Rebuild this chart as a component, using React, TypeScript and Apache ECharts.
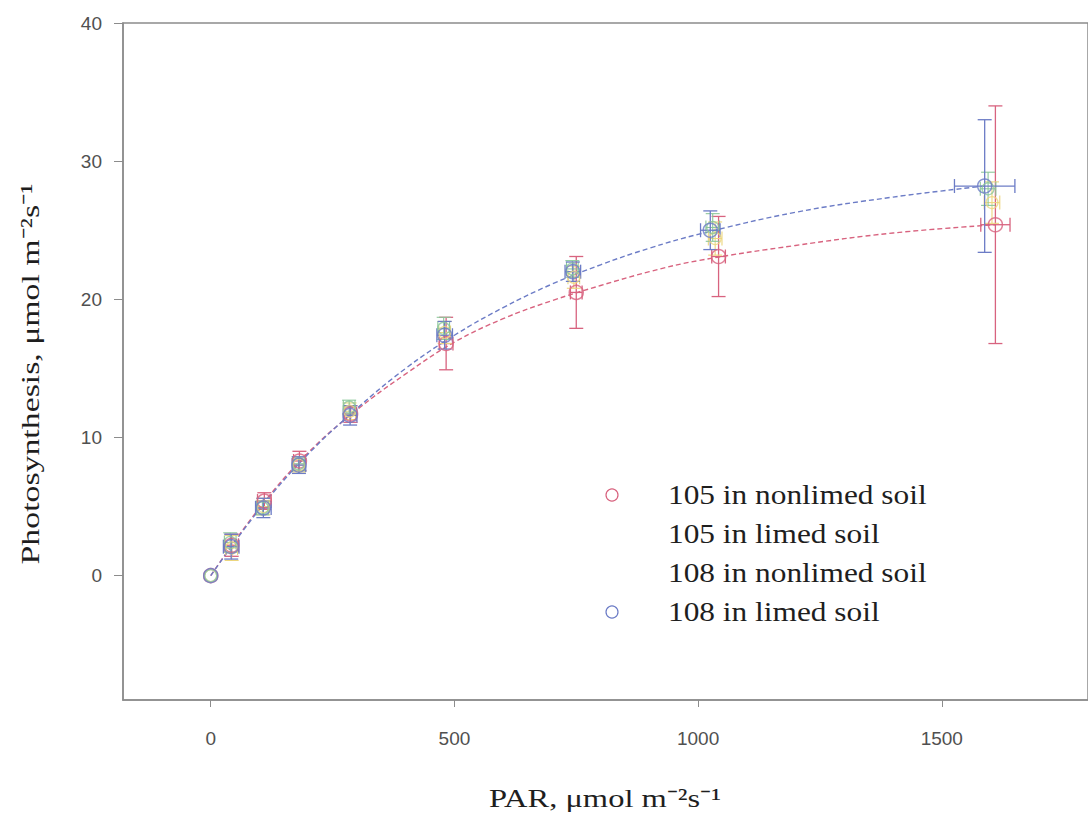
import React, { useEffect, useRef } from "react";
import * as echarts from "echarts";

// Light-response of photosynthesis, two genotypes on limed / nonlimed soil.
// Each treatment: mean PAR, mean photosynthesis, and their error half-widths.
const PAR_105_NL = [0, 43, 110, 182, 287, 483, 750, 1042, 1610];
const PN_105_NL = [0, 2.2, 5.4, 8.3, 11.7, 16.8, 20.5, 23.1, 25.4];
const PAR_ERR_105_NL = [0, 14, 14, 12, 12, 14, 12, 14, 30];
const PN_ERR_105_NL = [0, 0.8, 0.6, 0.7, 0.6, 1.9, 2.6, 2.9, 8.6];

const PAR_105_L = [0, 43, 108, 181, 285, 480, 745, 1035, 1603];
const PN_105_L = [0, 2.0, 5.0, 8.0, 11.9, 17.6, 21.6, 24.4, 27.0];
const PAR_ERR_105_L = [0, 12, 12, 12, 12, 12, 12, 14, 16];
const PN_ERR_105_L = [0, 0.9, 0.6, 0.5, 0.6, 0.8, 0.8, 1.2, 1.5];

const PAR_108_NL = [0, 40, 106, 180, 284, 478, 742, 1030, 1595];
const PN_108_NL = [0, 2.4, 4.9, 8.1, 12.2, 17.9, 22.2, 25.2, 28.0];
const PAR_ERR_108_NL = [0, 12, 12, 12, 12, 12, 12, 14, 16];
const PN_ERR_108_NL = [0, 0.7, 0.5, 0.5, 0.5, 0.8, 0.6, 1.0, 1.2];

const PAR_108_L = [0, 42, 108, 181, 286, 480, 743, 1025, 1588];
const PN_108_L = [0, 2.1, 4.9, 8.0, 11.6, 17.4, 22.0, 25.0, 28.2];
const PAR_ERR_108_L = [0, 16, 16, 14, 14, 16, 16, 20, 62];
const PN_ERR_108_L = [0, 0.9, 0.7, 0.6, 0.7, 1.0, 0.7, 1.4, 4.8];

// Fitted light-response curves
const CURVE_PAR_105_NL = [0, 100, 200, 300, 400, 500, 600, 700, 800, 900, 1000, 1200, 1400, 1610];
const CURVE_PN_105_NL = [0, 4.9, 8.9, 12.0, 14.6, 16.9, 18.6, 19.9, 21.0, 22.0, 22.8, 23.9, 24.8, 25.4];
const CURVE_PAR_108_L = [0, 100, 200, 300, 400, 500, 600, 700, 800, 900, 1000, 1200, 1400, 1588];
const CURVE_PN_108_L = [0, 4.8, 8.8, 12.1, 15.0, 17.4, 19.4, 21.1, 22.5, 23.7, 24.7, 26.3, 27.4, 28.2];

const X_TICKS = [0, 500, 1000, 1500];
const Y_TICKS = [0, 10, 20, 30, 40];

const LEGEND_NAMES = [
  "105 in nonlimed soil",
  "105 in limed soil",
  "108 in nonlimed soil",
  "108 in limed soil",
];

const RED = "#d8637f";
const YELLOW = "#ecd67e";
const GREEN = "#8cc79a";
const BLUE = "#6c7cc6";
const AXIS = "#8c8c8c";
const SERIF = "'Liberation Serif', 'Times New Roman', Times, serif";
const SANS = "'Liberation Sans', Arial, Helvetica, sans-serif";

const zip4 = (a: number[], b: number[], c: number[], d: number[]) =>
  a.map((v, i) => [v, b[i], c[i], d[i]]);

function errorBars(color: string, width: number) {
  return (_params: any, api: any) => {
    const x = api.value(0);
    const y = api.value(1);
    const ex = api.value(2);
    const ey = api.value(3);
    const c = api.coord([x, y]);
    const cap = 7;
    const style = { stroke: color, lineWidth: width };
    const children: any[] = [];
    const seg = (x1: number, y1: number, x2: number, y2: number) =>
      children.push({ type: "line", shape: { x1, y1, x2, y2 }, style });
    if (ey > 0) {
      const t = api.coord([x, y + ey]);
      const b = api.coord([x, y - ey]);
      seg(c[0], t[1], c[0], b[1]);
      seg(c[0] - cap, t[1], c[0] + cap, t[1]);
      seg(c[0] - cap, b[1], c[0] + cap, b[1]);
    }
    if (ex > 0) {
      const l = api.coord([x - ex, y]);
      const r = api.coord([x + ex, y]);
      seg(l[0], c[1], r[0], c[1]);
      seg(l[0], c[1] - cap, l[0], c[1] + cap);
      seg(r[0], c[1] - cap, r[0], c[1] + cap);
    }
    return { type: "group", children };
  };
}

function treatment(
  name: string,
  color: string,
  par: number[],
  pn: number[],
  parErr: number[],
  pnErr: number[],
  symbolSize: number,
  width: number
) {
  const rows = zip4(par, pn, parErr, pnErr);
  return [
    {
      type: "custom",
      name,
      renderItem: errorBars(color, width),
      encode: { x: 0, y: 1 },
      data: rows,
      z: 2,
    },
    {
      type: "scatter",
      name,
      symbol: "circle",
      symbolSize,
      itemStyle: { color: "rgba(255,255,255,0)", borderColor: color, borderWidth: width + 0.2 },
      data: rows.map((r) => [r[0], r[1]]),
      z: 3,
    },
  ];
}

function curve(color: string, par: number[], pn: number[]) {
  return {
    type: "line",
    showSymbol: false,
    smooth: 0.4,
    lineStyle: { color, width: 1.4, type: [5, 3] },
    data: par.map((v, i) => [v, pn[i]]),
    z: 1,
  };
}

export default function App() {
  const ref = useRef<HTMLDivElement>(null);

  useEffect(() => {
    if (!ref.current) return;
    const chart = echarts.init(ref.current, null, { renderer: "svg" });

    const legendRows = [495, 534, 573, 612];
    const legendGraphics: any[] = [];
    LEGEND_NAMES.forEach((n, i) => {
      legendGraphics.push({
        type: "text",
        x: 668,
        y: legendRows[i],
        scaleX: 1.12,
        style: {
          text: n,
          fontSize: 28,
          fontFamily: SERIF,
          fill: "#1e1e1e",
          align: "left",
          verticalAlign: "middle",
        },
      });
    });
    legendGraphics.push(
      { type: "circle", shape: { cx: 612, cy: legendRows[0], r: 6 }, style: { fill: "none", stroke: RED, lineWidth: 1.2 } },
      { type: "circle", shape: { cx: 612, cy: legendRows[3], r: 6 }, style: { fill: "none", stroke: BLUE, lineWidth: 1.2 } }
    );

    const tickLabel = (v: number) => String(v);

    chart.setOption({
      animation: false,
      backgroundColor: "#ffffff",
      grid: {
        left: 123,
        top: 23,
        bottom: 117,
        right: -7,
        show: true,
        borderColor: AXIS,
        borderWidth: 1.5,
      },
      xAxis: {
        type: "value",
        min: -180,
        max: 1800,
        axisLine: { show: true, onZero: false, lineStyle: { color: AXIS, width: 1.5 } },
        axisTick: { show: true, customValues: X_TICKS, length: 7, lineStyle: { color: AXIS } },
        axisLabel: {
          customValues: X_TICKS,
          formatter: tickLabel,
          fontFamily: SANS,
          fontSize: 19,
          color: "#505050",
          margin: 29,
        },
        splitLine: { show: false },
      },
      yAxis: {
        type: "value",
        min: -9,
        max: 40,
        axisLine: { show: true, onZero: false, lineStyle: { color: AXIS, width: 1.5 } },
        axisTick: { show: true, customValues: Y_TICKS, length: 9, lineStyle: { color: AXIS } },
        axisLabel: {
          customValues: Y_TICKS,
          formatter: tickLabel,
          fontFamily: SANS,
          fontSize: 19,
          color: "#505050",
          margin: 21,
        },
        splitLine: { show: false },
      },
      graphic: [
        {
          type: "text",
          x: 30,
          y: 374,
          rotation: Math.PI / 2,
          scaleX: 1.3,
          style: {
            text: "Photosynthesis, μmol m⁻²s⁻¹",
            fontSize: 26,
            fontFamily: SERIF,
            fill: "#1e1e1e",
            align: "center",
            verticalAlign: "middle",
          },
        },
        {
          type: "text",
          x: 605,
          y: 798,
          scaleX: 1.25,
          style: {
            text: "PAR, μmol m⁻²s⁻¹",
            fontSize: 26,
            fontFamily: SERIF,
            fill: "#1e1e1e",
            align: "center",
            verticalAlign: "middle",
          },
        },
        ...legendGraphics,
      ],
      series: [
        curve(RED, CURVE_PAR_105_NL, CURVE_PN_105_NL),
        curve(BLUE, CURVE_PAR_108_L, CURVE_PN_108_L),
        ...treatment(LEGEND_NAMES[0], RED, PAR_105_NL, PN_105_NL, PAR_ERR_105_NL, PN_ERR_105_NL, 14, 1.3),
        ...treatment(LEGEND_NAMES[1], YELLOW, PAR_105_L, PN_105_L, PAR_ERR_105_L, PN_ERR_105_L, 12, 1.1),
        ...treatment(LEGEND_NAMES[2], GREEN, PAR_108_NL, PN_108_NL, PAR_ERR_108_NL, PN_ERR_108_NL, 12, 1.1),
        ...treatment(LEGEND_NAMES[3], BLUE, PAR_108_L, PN_108_L, PAR_ERR_108_L, PN_ERR_108_L, 14, 1.3),
      ],
    });

    return () => chart.dispose();
  }, []);

  return (
    <div
      ref={ref}
      style={{ position: "absolute", left: 0, top: 0, width: 1088, height: 817 }}
    />
  );
}
